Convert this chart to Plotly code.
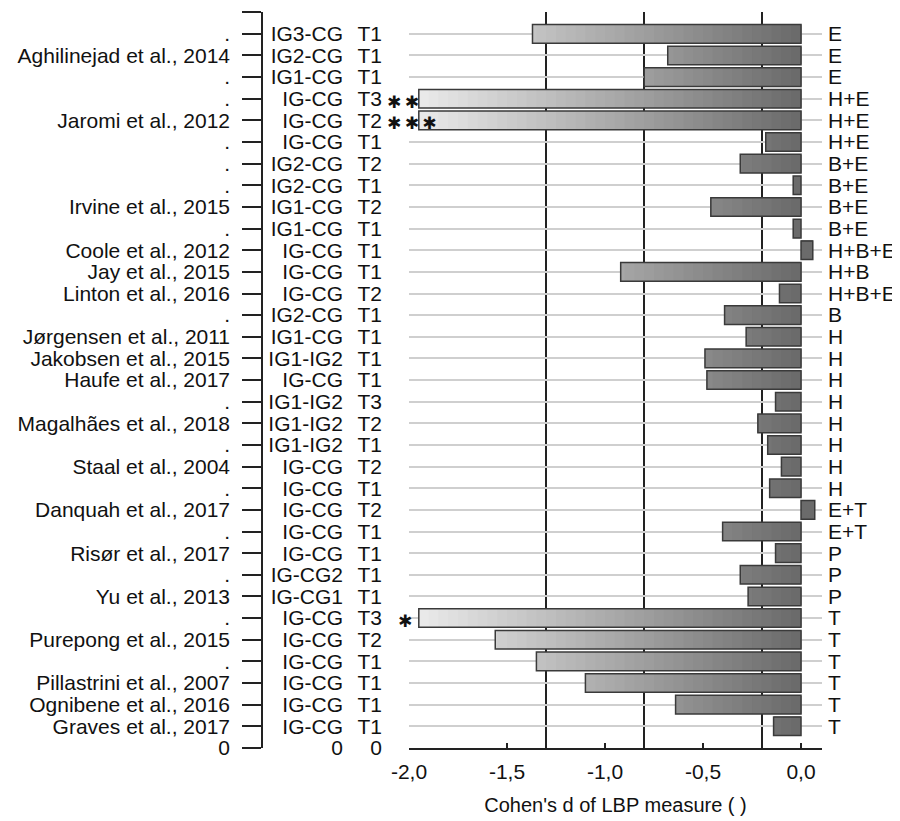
import numpy as np
import plotly.graph_objects as go

# ---------------- data ----------------
studies = [".", ".", "Aghilinejad et al., 2014", ".", ".", "Jaromi et al., 2012", ".",
           ".", ".", "Irvine et al., 2015", ".", "Coole et al., 2012", "Jay et al., 2015",
           "Linton et al., 2016", ".", "Jørgensen et al., 2011", "Jakobsen et al., 2015",
           "Haufe et al., 2017", ".", "Magalhães et al., 2018", ".", "Staal et al., 2004", ".",
           "Danquah et al., 2017", ".", "Risør et al., 2017", ".", "Yu et al., 2013", ".",
           "Purepong et al., 2015", ".", "Pillastrini et al., 2007", "Ognibene et al., 2016",
           "Graves et al., 2017", "0"]
comparisons = [".", "IG3-CG", "IG2-CG", "IG1-CG", "IG-CG", "IG-CG", "IG-CG", "IG2-CG", "IG2-CG",
               "IG1-CG", "IG1-CG", "IG-CG", "IG-CG", "IG-CG", "IG2-CG", "IG1-CG", "IG1-IG2",
               "IG-CG", "IG1-IG2", "IG1-IG2", "IG1-IG2", "IG-CG", "IG-CG", "IG-CG", "IG-CG",
               "IG-CG", "IG-CG2", "IG-CG1", "IG-CG", "IG-CG", "IG-CG", "IG-CG", "IG-CG", "IG-CG", "0"]
timepoints = [".", "T1", "T1", "T1", "T3", "T2", "T1", "T2", "T1", "T2", "T1", "T1", "T1", "T2",
              "T1", "T1", "T1", "T1", "T3", "T2", "T1", "T2", "T1", "T2", "T1", "T1", "T1", "T1",
              "T3", "T2", "T1", "T1", "T1", "T1", "0"]
interventions = ["E", "E", "E", "H+E", "H+E", "H+E", "B+E", "B+E", "B+E", "B+E", "H+B+E", "H+B",
                 "H+B+E", "B", "H", "H", "H", "H", "H", "H", "H", "H", "E+T", "E+T", "P", "P", "P",
                 "T", "T", "T", "T", "T", "T"]
cohens_d = [-1.37, -0.68, -0.80, -1.95, -1.95, -0.18, -0.31, -0.04, -0.46, -0.04, 0.06, -0.92,
            -0.11, -0.39, -0.28, -0.49, -0.48, -0.13, -0.22, -0.17, -0.10, -0.16, 0.07, -0.40,
            -0.13, -0.31, -0.27, -1.95, -1.56, -1.35, -1.10, -0.64, -0.14]
significance = ["", "", "", "**", "***", "", "", "", "", "", "", "", "", "", "", "", "", "", "",
                "", "", "", "", "", "", "", "", "*", "", "", "", "", ""]
effect_thresholds = [-1.3, -0.8, -0.2]
x_ticks = [-2.0, -1.5, -1.0, -0.5, 0.0]
x_ticklabels = ["-2,0", "-1,5", "-1,0", "-0,5", "0,0"]

# ---------------- figure ----------------
# the page body adds an 8 px margin, so the figure is drawn 8 px smaller and shifted
OFF = 8
W, H = 900 - OFF, 821 - OFF
PLOT_L, PLOT_R, PLOT_T, PLOT_B = 409 - OFF, 822 - OFF, 12 - OFF, 748 - OFF
ML, MR, MT, MB = 2, W - PLOT_R, PLOT_T, H - PLOT_B
paper_w = W - ML - MR
def px_to_paper(px):
    return (px - OFF - ML) / paper_w

n_rows = len(studies)            # includes top "." row and bottom "0" row
rows_all = list(range(n_rows))
rows_data = list(range(1, n_rows - 1))
yrange = [n_rows - 1 + 0.005, -0.01]

FONT = "Arial, Liberation Sans, sans-serif"
FS = 21
vals = np.array(cohens_d)

fig = go.Figure()

# gradient fill: bars layered light->dark along the value axis
steps = 40
for k in range(steps):
    t = -2.0 + k * (2.0 / steps)
    mid = t + 1.0 / steps
    g = int(round(105 + 133 * (-mid / 2.0)))
    fig.add_trace(go.Bar(
        x=np.maximum(vals, t), y=rows_data, orientation="h",
        width=0.86, marker=dict(color=f"rgb({g},{g},{g})", line=dict(width=0)),
        showlegend=False, hoverinfo="skip"))
# outline
fig.add_trace(go.Bar(
    x=vals, y=rows_data, orientation="h", width=0.86,
    marker=dict(color="rgba(0,0,0,0)", line=dict(color="#3a3a3a", width=1.5)),
    showlegend=False, hoverinfo="skip"))

# empty traces so the label axes exist
for ax in ["y2", "y3", "y4"]:
    fig.add_trace(go.Scatter(x=[None], y=[None], yaxis=ax, showlegend=False, hoverinfo="skip"))

# significance asterisks
shift = {"*": -23, "**": -34, "***": -34}
for r, v, s in zip(rows_data, cohens_d, significance):
    if s:
        fig.add_annotation(x=v, y=r, text="\u2009".join("✱" * len(s)), showarrow=False,
                           xanchor="left", xshift=shift[s], yshift=-3,
                           font=dict(family="DejaVu Sans", size=17, color="#111"))

axis_font = dict(family=FONT, size=FS, color="#111")
common_y = dict(range=yrange, tickmode="array", zeroline=False, fixedrange=True,
                automargin=False)

fig.update_layout(
    width=W, height=H, margin=dict(l=ML, r=MR, t=MT, b=MB, autoexpand=False),
    paper_bgcolor="white", plot_bgcolor="white", barmode="overlay",
    showlegend=False,
    font=dict(family=FONT, size=FS, color="#111"),
    xaxis=dict(domain=[px_to_paper(409), 1.0], range=[-2.0, 0.107], tickmode="array",
               tickvals=x_ticks, ticktext=x_ticklabels, ticks="inside", ticklen=5, tickwidth=1.5,
               tickcolor="#222", showline=True, linecolor="#222", linewidth=1.5,
               showgrid=False, zeroline=False, automargin=False,
               tickfont=dict(family=FONT, size=FS, color="#111"),
               ticklabelstandoff=4,
               minor=dict(tickmode="array", tickvals=effect_thresholds, showgrid=True,
                          gridcolor="#222", gridwidth=1.5, ticks=""),
               title=dict(text="Cohen's d of LBP measure ( )", standoff=16,
                          font=dict(family=FONT, size=20, color="#111"))),
    yaxis=dict(**common_y, tickvals=rows_data, ticktext=interventions, side="right",
               showgrid=True, gridcolor="#cfcfcf", gridwidth=1.5, ticks="",
               ticklabelstandoff=5, tickfont=axis_font),
    yaxis2=dict(**common_y, overlaying="y", anchor="free", position=px_to_paper(262), side="left",
                tickvals=rows_all, ticktext=studies, showline=True, linecolor="#222", linewidth=1.5,
                ticks="outside", ticklen=19, tickwidth=1.5, tickcolor="#222", showgrid=False,
                ticklabelstandoff=8, tickfont=axis_font),
    yaxis3=dict(**common_y, overlaying="y", anchor="free", position=px_to_paper(343), side="left",
                tickvals=rows_all, ticktext=comparisons, showline=False, ticks="", showgrid=False,
                ticklabelstandoff=0, tickfont=axis_font),
    yaxis4=dict(**common_y, overlaying="y", anchor="x", side="left", showgrid=False,
                tickvals=rows_all, ticktext=timepoints, showline=False, ticks="",
                ticklabelstandoff=26, tickfont=axis_font),
)

fig.write_html("out.html")
